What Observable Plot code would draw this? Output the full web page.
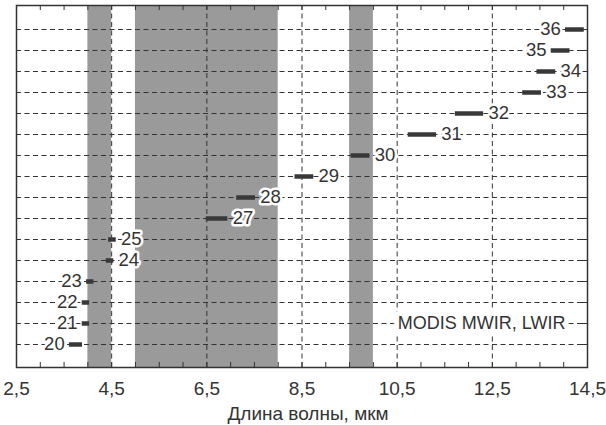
<!DOCTYPE html>
<html><head><meta charset="utf-8">
<script src="https://cdn.jsdelivr.net/npm/d3@7"></script>
<script src="https://cdn.jsdelivr.net/npm/@observablehq/plot@0.6"></script>
<style>body{margin:0;background:#fff}</style>
</head><body><div id="chart"></div>
<script>
const bands  = [20, 21, 22, 23, 24, 25, 27, 28, 29, 30, 31, 32, 33, 34, 35, 36];
const bandLo = [3.66, 3.929, 3.929, 4.02, 4.433, 4.482, 6.535, 7.175, 8.4, 9.58, 10.78, 11.77, 13.185, 13.485, 13.785, 14.085];
const bandHi = [3.84, 3.989, 3.989, 4.08, 4.498, 4.549, 6.895, 7.475, 8.7, 9.88, 11.28, 12.27, 13.485, 13.785, 14.085, 14.385];
const leftLabelled = [20, 21, 22, 23, 35, 36];
const absorptionLo = [4.0, 5.0, 9.5];
const absorptionHi = [4.5, 8.0, 10.0];
const xTicks = [2.5, 4.5, 6.5, 8.5, 10.5, 12.5, 14.5];
const minorTicks = [3, 3.5, 4, 4.5, 5, 5.5, 6, 6.5, 7, 7.5, 8, 8.5, 9, 9.5, 10, 10.5, 11, 11.5, 12, 12.5, 13, 13.5, 14];
const xLabel = "Длина волны, мкм";
const title = "MODIS MWIR, LWIR";
const titleBand = 21;

const W = 606, H = 425, mL = 16, mR = 19, mT = 5, mB = 58;
const innerH = H - mT - mB, innerW = W - mL - mR;

const rows = bands.map((b, i) => ({band: b, lo: bandLo[i], hi: bandHi[i], left: leftLabelled.includes(b)}));
const absorption = absorptionLo.map((lo, i) => ({lo, hi: absorptionHi[i]}));
const ink = "#333";
const dash = "5,3.5";

const chart = Plot.plot({
  width: W, height: H,
  marginLeft: mL, marginRight: mR, marginTop: mT, marginBottom: mB,
  style: {fontFamily: "'Liberation Sans', Arial, Helvetica, sans-serif", fontSize: "18px", background: "white", color: ink},
  x: {domain: [2.5, 14.5]},
  y: {type: "point", domain: [...bands].reverse(), padding: 1, axis: null},
  marks: [
    Plot.rect(absorption, {x1: "lo", x2: "hi", fill: "#9a9a9a"}),
    Plot.ruleX(xTicks.slice(1, -1), {x: d => d, stroke: ink, strokeWidth: 1, strokeDasharray: dash}),
    Plot.ruleY(bands, {y: d => d, stroke: ink, strokeWidth: 1, strokeDasharray: dash}),
    Plot.tickX(minorTicks, {x: d => d, insetTop: innerH - 5, stroke: ink}),
    Plot.tickX(minorTicks, {x: d => d, insetBottom: innerH - 5, stroke: ink}),
    Plot.tickY(bands, {y: d => d, insetRight: innerW - 5, stroke: ink}),
    Plot.tickY(bands, {y: d => d, insetLeft: innerW - 5, stroke: ink}),
    Plot.ruleY(rows, {y: "band", x1: "lo", x2: "hi", stroke: "#383838", strokeWidth: 4.5, strokeLinecap: "square"}),
    Plot.text(rows.filter(d => d.left), {x: "lo", y: "band", text: d => String(d.band), textAnchor: "end", dx: -7,
      fontSize: 18.5, fill: ink, stroke: "white", strokeWidth: 5}),
    Plot.text(rows.filter(d => !d.left), {x: "hi", y: "band", text: d => String(d.band), textAnchor: "start", dx: 7,
      fontSize: 18.5, fill: ink, stroke: "white", strokeWidth: 5}),
    Plot.text([title], {text: d => d, frameAnchor: "right", y: () => titleBand, textAnchor: "end", dx: -22,
      fontSize: 18, fill: ink, stroke: "white", strokeWidth: 10}),
    Plot.axisX(xTicks, {tickFormat: d => String(d).replace(".", ","), tickSize: 0, tickPadding: 13.5,
      fontSize: 19, fill: ink, label: null}),
    Plot.text([xLabel], {text: d => d, frameAnchor: "bottom", dy: 52, dx: 6, lineAnchor: "bottom", fontSize: 19, fill: ink}),
    Plot.frame({stroke: ink, strokeWidth: 1.5})
  ]
});
document.getElementById("chart").appendChild(chart);
</script>
</body></html>
